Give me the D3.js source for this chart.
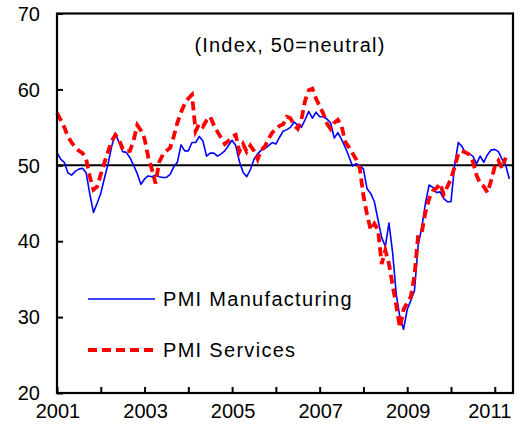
<!DOCTYPE html>
<html>
<head>
<meta charset="utf-8">
<script src="https://cdn.jsdelivr.net/npm/d3@7"></script>
<style>
  body { margin: 0; background: #fff; }
  svg { display: block; font-family: "Liberation Sans", Arial, sans-serif; }
</style>
</head>
<body>
<div id="chart"></div>
<script>
// monthly data, Jan 2001 onwards
const startYear = 2001;
const manufacturing = [
  51.7, 50.8, 50.4, 49.0, 48.7, 49.2, 49.5, 49.6, 49.0, 46.2, 43.8, 45.0,
  46.3, 48.3, 50.2, 52.5, 54.2, 53.0, 51.8, 51.7, 51.0, 50.0, 48.9, 47.5,
  48.2, 48.6, 48.5, 48.7, 48.5, 48.4, 48.4, 48.8, 49.8, 50.4, 52.7, 51.9,
  51.9, 53.0, 53.0, 53.8, 53.2, 51.2, 51.6, 51.6, 51.2, 51.5, 51.9, 52.6,
  53.3, 52.6, 50.5, 49.1, 48.5, 49.4, 50.8, 51.5, 52.0, 52.2, 52.6, 53.0,
  52.8, 53.7, 54.5, 54.7, 55.0, 55.7, 55.3, 55.0, 56.0, 57.1, 56.2, 57.0,
  56.4, 56.4, 56.1, 55.6, 53.6, 54.3, 53.4, 52.4, 51.2, 49.9, 50.2, 50.0,
  49.5, 46.9, 46.3, 45.2, 42.8, 40.5, 39.3, 42.4, 38.5, 33.0, 30.0, 28.4,
  31.0, 32.2, 33.5, 39.5, 41.8, 45.0, 47.4, 47.1, 46.4, 46.5, 45.6, 45.2,
  45.2, 50.0, 53.0, 52.5, 51.6, 51.5, 51.2, 50.2, 51.2, 50.4, 51.4, 52.0,
  52.1, 51.8, 50.8, 50.0, 48.2
];
const services = [
  56.9, 56.0, 55.0, 53.8, 53.0, 52.4, 51.9, 51.6, 50.8, 48.5, 46.8, 47.2,
  48.8, 50.4, 51.8, 53.2, 54.0, 53.4, 52.2, 51.8, 51.9, 53.3, 55.3, 54.6,
  53.5, 51.1, 49.5, 47.6, 50.4, 51.4, 51.9, 52.3, 53.8, 55.6, 57.0, 58.1,
  58.8, 59.3, 54.5, 55.5, 55.1, 55.9, 56.4, 55.3, 54.4, 53.6, 52.8, 53.2,
  53.8, 54.0, 51.8, 52.8, 51.8, 52.6, 51.9, 50.8, 52.0, 52.5, 53.5, 54.3,
  54.8, 55.2, 55.4, 56.4, 56.2, 55.3, 54.8, 56.0, 58.5, 59.9, 60.1, 58.8,
  57.8, 56.8, 55.5, 54.8, 55.6, 56.0, 55.2, 53.1, 52.4, 51.6, 50.8, 49.6,
  46.0, 43.5, 41.5, 42.3, 41.5, 37.0, 38.8, 37.0, 34.2, 31.5, 28.6, 31.0,
  31.9, 32.7, 35.5, 40.8, 41.2, 43.8, 45.6, 46.6, 47.0, 47.6, 46.2, 47.2,
  48.2, 49.8, 51.5, 51.9, 51.7, 51.4, 50.5, 48.7, 47.6, 47.2, 46.4, 48.0,
  49.8, 50.6, 49.6, 51.0
];
const yTicks = [20, 30, 40, 50, 60, 70];
const xTickYears = [2001, 2002, 2003, 2004, 2005, 2006, 2007, 2008, 2009, 2010, 2011];
const xLabelYears = [2001, 2003, 2005, 2007, 2009, 2011];
const neutral = 50;
const title = '(Index, 50=neutral)';
const seriesNames = ['PMI Manufacturing', 'PMI Services'];

const W = 523, H = 435;
const margin = { top: 13.5, right: 10, bottom: 42, left: 57 };

const svg = d3.select('#chart').append('svg')
  .attr('width', W)
  .attr('height', H);

// month index scale
const x = d3.scaleLinear().domain([0, 125]).range([margin.left, W - margin.right]);
const y = d3.scaleLinear().domain([20, 70]).range([H - margin.bottom, margin.top]);

// 50 line
svg.append('line')
  .attr('x1', x(0)).attr('x2', x(125))
  .attr('y1', y(neutral)).attr('y2', y(neutral))
  .attr('stroke', '#000').attr('stroke-width', 2);

const line = d3.line()
  .x((d, i) => x(i))
  .y(d => y(d));

svg.append('path')
  .datum(manufacturing)
  .attr('fill', 'none')
  .attr('stroke', '#0000ff')
  .attr('stroke-width', 1.6)
  .attr('stroke-linejoin', 'round')
  .attr('d', line);

svg.append('path')
  .datum(services)
  .attr('fill', 'none')
  .attr('stroke', '#ff0000')
  .attr('stroke-width', 3.8)
  .attr('stroke-dasharray', '9,5')
  .attr('d', line);

// frame
svg.append('rect')
  .attr('x', x(0)).attr('y', y(70))
  .attr('width', x(125) - x(0))
  .attr('height', y(20) - y(70))
  .attr('fill', 'none')
  .attr('stroke', '#000')
  .attr('stroke-width', 2.2);

// y axis
const yAxis = svg.append('g')
  .attr('class', 'axis axis-y')
  .attr('transform', `translate(${x(0)},0)`)
  .call(d3.axisRight(y).tickValues(yTicks).tickSize(6).tickFormat(''));
yAxis.select('.domain').remove();
yAxis.selectAll('line').attr('stroke', '#000').attr('stroke-width', 2);

svg.selectAll('.ylab')
  .data(yTicks)
  .enter().append('text')
  .attr('class', 'ylab')
  .attr('x', x(0) - 17)
  .attr('y', d => y(d))
  .attr('dy', '0.36em')
  .attr('text-anchor', 'end')
  .attr('font-size', 20)
  .text(d => d);

// x axis
const xAxis = svg.append('g')
  .attr('class', 'axis axis-x')
  .attr('transform', `translate(0,${y(20)})`)
  .call(d3.axisTop(x).tickValues(xTickYears.map(yr => (yr - startYear) * 12)).tickSize(6).tickFormat(''));
xAxis.select('.domain').remove();
xAxis.selectAll('line').attr('stroke', '#000').attr('stroke-width', 2);

svg.selectAll('.xlab')
  .data(xLabelYears)
  .enter().append('text')
  .attr('class', 'xlab')
  .attr('x', d => x((d - startYear) * 12) + (d === 2011 ? -5 : 1))
  .attr('y', y(20) + 25)
  .attr('text-anchor', 'middle')
  .attr('font-size', 20)
  .text(d => d);

// title
svg.append('text')
  .attr('x', 290)
  .attr('y', 52)
  .attr('text-anchor', 'middle')
  .attr('font-size', 20)
  .attr('letter-spacing', 1.2)
  .text(title);

// legend
const legend = svg.append('g').attr('class', 'legend');
const legendItems = [
  { name: seriesNames[0], color: '#0000ff', width: 1.6, dash: null, ly: 299 },
  { name: seriesNames[1], color: '#ff0000', width: 3.8, dash: '9,5', ly: 350 }
];
legendItems.forEach(d => {
  legend.append('line')
    .attr('x1', 88).attr('x2', 155)
    .attr('y1', d.ly).attr('y2', d.ly)
    .attr('stroke', d.color)
    .attr('stroke-width', d.width)
    .attr('stroke-dasharray', d.dash);
  legend.append('text')
    .attr('x', 163)
    .attr('y', d.ly)
    .attr('dy', '0.36em')
    .attr('font-size', 20)
    .attr('letter-spacing', 1.3)
    .text(d.name);
});
</script>
</body>
</html>
